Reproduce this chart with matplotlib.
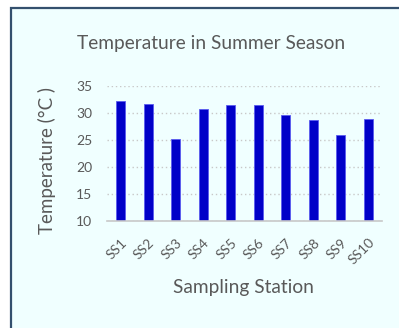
import matplotlib
matplotlib.use("Agg")
import matplotlib.pyplot as plt
import matplotlib.transforms as mtransforms
from matplotlib.patches import Rectangle

# ---------------------------------------------------------------------------
# Data
# ---------------------------------------------------------------------------
STATIONS = ["SS1", "SS2", "SS3", "SS4", "SS5", "SS6", "SS7", "SS8", "SS9", "SS10"]
TEMPS    = [32.3, 31.6, 25.1, 30.7, 31.4, 31.5, 29.7, 28.7, 25.9, 28.9]
Y_TICKS  = [10, 15, 20, 25, 30, 35]

TEXT_COLOR = "#595959"
BG_COLOR   = "#F0FFFF"
BAR_COLOR  = "#0000C8"

plt.rcParams["font.family"] = ["Lato", "DejaVu Sans"]

W, H = 399, 328
fig = plt.figure(figsize=(W / 100, H / 100), dpi=100)
fig.patch.set_facecolor("white")

# chart frame (light cyan panel with dark border, clipped at right/bottom)
fig.patches.append(Rectangle((11 / W, -0.05), 1.05, 1 - 8 / H + 0.05,
                             transform=fig.transFigure, facecolor=BG_COLOR,
                             edgecolor="#34506E", linewidth=1.6, zorder=-10))

ax = fig.add_axes([107 / W, 1 - 221 / H, 275 / W, 135 / H])
ax.set_facecolor("none")

x = range(len(STATIONS))
ax.bar(x, TEMPS, width=0.32, bottom=0, color=BAR_COLOR,
       edgecolor="#5A5AF0", linewidth=0.6, zorder=3)
ax.set_xlim(-0.5, len(STATIONS) - 0.5)
ax.set_ylim(10, 35)
ax.set_yticks(Y_TICKS)
ax.set_xticks(list(x))
ax.set_xticklabels(STATIONS, rotation=45, ha="right", rotation_mode="anchor")

# nudge rotated labels a little to the right, like the original
shift = mtransforms.ScaledTranslation(5 / 100, 0, fig.dpi_scale_trans)
for lbl in ax.get_xticklabels():
    lbl.set_transform(lbl.get_transform() + shift)

ax.grid(axis="y", linestyle=(0, (1, 2)), color="#C8C8C8", linewidth=1.0, zorder=1)
for side in ["top", "right", "left"]:
    ax.spines[side].set_visible(False)
ax.spines["bottom"].set_color("#C8C8C8")
ax.spines["bottom"].set_linewidth(1.2)
ax.spines["bottom"].set_zorder(4)
ax.tick_params(axis="both", length=0, colors=TEXT_COLOR, labelsize=10)
ax.tick_params(axis="y", pad=10.5)
ax.tick_params(axis="x", pad=11)

fig.text(47 / W, 1 - 160 / H, "Temperature (°C )", fontsize=13.5,
         color=TEXT_COLOR, ha="center", va="center", rotation=90)
fig.text(243 / W, 1 - 287 / H, "Sampling Station", fontsize=13.8,
         color=TEXT_COLOR, ha="center", va="center")
fig.text(211 / W, 1 - 43 / H, "Temperature in Summer Season", fontsize=13.8,
         color=TEXT_COLOR, ha="center", va="center")

fig.savefig("out.png", dpi=100, facecolor=fig.get_facecolor())
